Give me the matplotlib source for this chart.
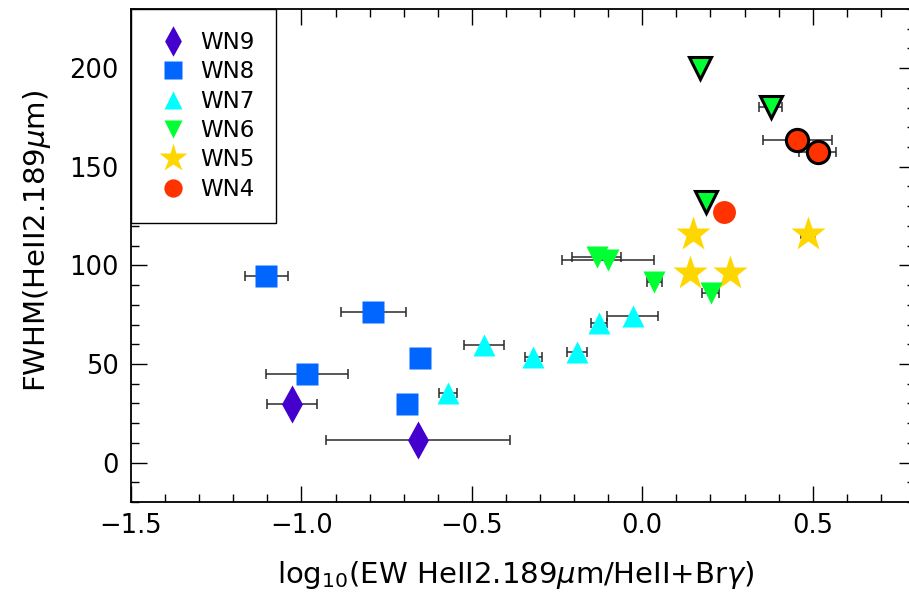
import matplotlib
matplotlib.use('Agg')
import matplotlib.pyplot as plt
from matplotlib.lines import Line2D
from matplotlib.ticker import MultipleLocator

plt.rcParams['font.family'] = ['DejaVu Sans']
plt.rcParams['mathtext.fontset'] = 'dejavusans'

# data: x = log10(EW ratio), y = FWHM, xe = half error in x
wn9_x = [-1.028, -0.657]
wn9_y = [29.8, 11.4]
wn9_xe = [0.073, 0.27]

wn8_x = [-1.103, -0.789, -0.983, -0.651, -0.689]
wn8_y = [94.4, 76.2, 44.7, 52.8, 29.5]
wn8_xe = [0.064, 0.095, 0.12, 0.0, 0.0]

wn7_x = [-0.464, -0.569, -0.320, -0.192, -0.127, -0.028]
wn7_y = [59.6, 35.1, 53.7, 55.9, 70.9, 74.1]
wn7_xe = [0.058, 0.026, 0.025, 0.029, 0.024, 0.075]

wn6_x = [-0.134, -0.101, 0.035, 0.201]
wn6_y = [104.0, 102.7, 91.7, 85.8]
wn6_xe = [0.071, 0.135, 0.022, 0.025]
# WN6 points drawn with a black outline
wn6b_x = [0.170, 0.377, 0.186]
wn6b_y = [199.9, 180.4, 132.3]
wn6b_xe = [0.0, 0.034, 0.0]

wn5_x = [0.148, 0.487, 0.140, 0.258]
wn5_y = [115.9, 116.1, 96.3, 96.3]
wn5_xe = [0.0, 0.02, 0.0, 0.0]

wn4_x = [0.240]
wn4_y = [127.2]
# WN4 points drawn with a black outline
wn4b_x = [0.455, 0.515]
wn4b_y = [163.5, 157.6]
wn4b_xe = [0.101, 0.054]

c9 = '#4400CC'
c8 = '#0066FF'
c7 = '#00FFFF'
c6 = '#00FF33'
c5 = '#FFD700'
c4 = '#FF3300'

diamond = [(0, 1), (0.55, 0), (0, -1), (-0.55, 0), (0, 1)]

fig = plt.figure(figsize=(9.09, 5.96), dpi=100)
ax = fig.add_axes([131/909, 94/596, 784/909, 493/596])

ekw = dict(fmt='none', ecolor='#2a2a2a', elinewidth=1.1, capsize=3.6, capthick=1.1, zorder=2)
for xs, ys, xe in [(wn9_x, wn9_y, wn9_xe), (wn8_x, wn8_y, wn8_xe), (wn7_x, wn7_y, wn7_xe),
                   (wn6_x, wn6_y, wn6_xe), (wn6b_x, wn6b_y, wn6b_xe), (wn5_x, wn5_y, wn5_xe),
                   (wn4b_x, wn4b_y, wn4b_xe)]:
    pts = [(a, b, e) for a, b, e in zip(xs, ys, xe) if e > 0]
    if pts:
        ax.errorbar([p[0] for p in pts], [p[1] for p in pts], xerr=[p[2] for p in pts], **ekw)

ax.plot(wn9_x, wn9_y, ls='none', marker=diamond, ms=27.4, color=c9, mec='none', zorder=3)
ax.plot(wn8_x, wn8_y, ls='none', marker='s', ms=16.5, color=c8, mec='none', zorder=3)
ax.plot(wn7_x, wn7_y, ls='none', marker='^', ms=16.5, color=c7, mec='none', zorder=3)
ax.plot(wn5_x, wn5_y, ls='none', marker='*', ms=26.3, color=c5, mec='none', zorder=3)
ax.plot(wn6_x, wn6_y, ls='none', marker='v', ms=16.5, color=c6, mec='none', zorder=4)
ax.plot(wn6b_x, wn6b_y, ls='none', marker='v', ms=16, color=c6, mec='black', mew=2.2, zorder=4)
ax.plot(wn4_x, wn4_y, ls='none', marker='o', ms=16.5, color=c4, mec='none', zorder=5)
ax.plot(wn4b_x, wn4b_y, ls='none', marker='o', ms=16, color=c4, mec='black', mew=2.2, zorder=5)

ax.set_xlim(-1.5, 0.8)
ax.set_ylim(-20, 230)
ax.xaxis.set_major_locator(MultipleLocator(0.5))
ax.xaxis.set_minor_locator(MultipleLocator(0.1))
ax.yaxis.set_major_locator(MultipleLocator(50))
ax.yaxis.set_minor_locator(MultipleLocator(10))
ax.tick_params(which='both', direction='in', top=True, right=True, labelsize=18.5)
ax.tick_params(which='major', length=11.5, width=1.0, pad=8)
ax.tick_params(which='minor', length=5.8, width=1.0)
ax.tick_params(axis='y', pad=9)
for s in ax.spines.values():
    s.set_linewidth(1.3)

ax.set_xlabel(r'log$_{10}$(EW HeII2.189$\mu$m/HeII+Br$\gamma$)', fontsize=21)
ax.set_ylabel(r'FWHM(HeII2.189$\mu$m)', fontsize=21)
ax.xaxis.set_label_coords(0.49, -0.116)
ax.yaxis.set_label_coords(-0.10, 0.53)

handles = [
    Line2D([], [], ls='none', marker=diamond, ms=27.4, color=c9, mec='none'),
    Line2D([], [], ls='none', marker='s', ms=16.5, color=c8, mec='none'),
    Line2D([], [], ls='none', marker='^', ms=16.5, color=c7, mec='none'),
    Line2D([], [], ls='none', marker='v', ms=16.5, color=c6, mec='none'),
    Line2D([], [], ls='none', marker='*', ms=26.3, color=c5, mec='none'),
    Line2D([], [], ls='none', marker='o', ms=16.5, color=c4, mec='none'),
]
labels = ['WN9', 'WN8', 'WN7', 'WN6', 'WN5', 'WN4']
leg = ax.legend(handles, labels, loc='upper left', borderaxespad=0, fancybox=False,
                edgecolor='black', framealpha=1, fontsize=16.5, markerscale=0.8,
                borderpad=0.95, handlelength=1.75, handletextpad=0.3, labelspacing=0.28)
leg.get_frame().set_linewidth(1.0)

fig.savefig('out.png', dpi=100)
